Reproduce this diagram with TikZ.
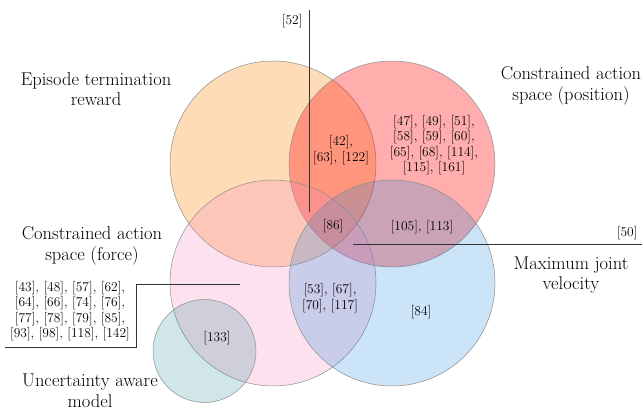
\documentclass[tikz,border=0pt]{standalone}
\begin{document}
\begin{tikzpicture}[x=1pt,y=-1pt,
  venn/.style={circle,draw=black!45,line width=0.5pt,inner sep=0pt},
  title/.style={align=center,font=\fontsize{18.5}{20.5}\selectfont},
  refs/.style={align=center,font=\fontsize{13.5}{15.5}\selectfont},
  leader/.style={draw=black!80,line width=0.6pt}]
\useasboundingbox (0,0) rectangle (644,411);
% circles
\node[venn,minimum size=206pt,fill=orange,fill opacity=0.28] (ep) at (273,164) {};
\node[venn,minimum size=206pt,fill=red,fill opacity=0.32] (pos) at (392,164) {};
\node[venn,minimum size=206pt,fill={rgb,255:red,245;green,140;blue,190},fill opacity=0.25] (frc) at (273,283) {};
\node[venn,minimum size=206pt,fill={rgb,255:red,20;green,130;blue,220},fill opacity=0.22] (vel) at (392,283) {};
\node[venn,minimum size=103pt,fill={rgb,255:red,40;green,140;blue,150},fill opacity=0.22] (unc) at (204.5,351) {};
% titles
\node[title] (tep) at (96,89) {Episode termination\\reward};
\node[title] (tpos) at (571,86) {Constrained action\\space (position)};
\node[title] (tfrc) at (92,246) {Constrained action\\space (force)};
\node[title] (tunc) at (90,391) {Uncertainty aware\\model};
\node[title] (tvel) at (571,275) {Maximum joint\\velocity};
% reference lists
\node[refs] (r1) at (341,150) {[42],\\\hspace{0pt}[63], [122]};
\node[refs] (r2) at (434,145) {[47], [49], [51],\\\hspace{0pt}[58], [59], [60],\\\hspace{0pt}[65], [68], [114],\\\hspace{0pt}[115], [161]};
\node[refs] (r3) at (333,226) {[86]};
\node[refs] (r4) at (422,227) {[105], [113]};
\node[refs] (r5) at (330,298) {[53], [67],\\\hspace{0pt}[70], [117]};
\node[refs] (r6) at (421,312) {[84]};
\node[refs] (r7) at (217,338) {[133]};
\node[refs] (r8) at (70,311) {[43], [48], [57], [62],\\\hspace{0pt}[64], [66], [74], [76],\\\hspace{0pt}[77], [78], [79], [85],\\\hspace{0pt}[93], [98], [118], [142]};
\node[refs,anchor=east] (r9) at (306,21) {[52]};
\node[refs,anchor=south east] (r10) at (641,243) {[50]};
% leaders
\coordinate (a1) at (309.5,10);
\coordinate (a2) at (309.5,212);
\draw[leader] (a1) -- (a2);
\coordinate (b1) at (353,244.5);
\coordinate (b2) at (642,244.5);
\draw[leader] (b1) -- (b2);
\coordinate (c1) at (240,284);
\coordinate (c2) at (136,284);
\coordinate (c3) at (136,347);
\coordinate (c4) at (5,347);
\draw[leader] (c1) -- (c2) -- (c3) -- (c4);
\end{tikzpicture}
\end{document}
